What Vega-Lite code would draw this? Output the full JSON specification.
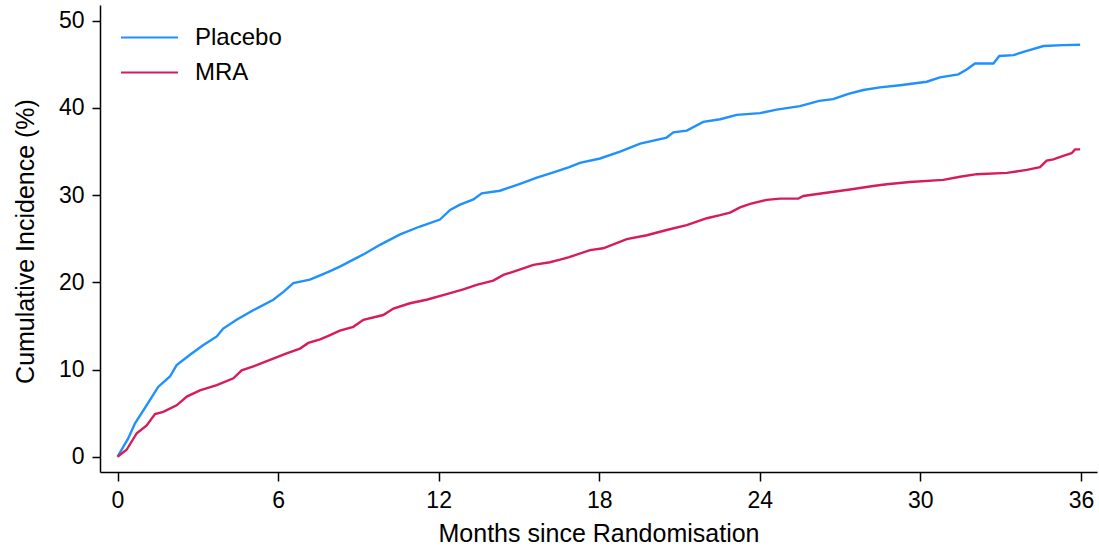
{
  "$schema": "https://vega.github.io/schema/vega-lite/v6.json",
  "width": 997,
  "height": 467,
  "autosize": "none",
  "padding": {"left": 100, "top": 5, "right": 2, "bottom": 76},
  "background": "white",
  "config": {"view": {"stroke": null}, "font": "Liberation Sans"},
  "datasets": {
    "placebo": [
      {"month": 0, "pct": 0}, {"month": 0.22, "pct": 1.15}, {"month": 0.4, "pct": 2.1}, {"month": 0.65, "pct": 3.8},
      {"month": 0.9, "pct": 5.0}, {"month": 1.21, "pct": 6.5}, {"month": 1.52, "pct": 8.0}, {"month": 1.96, "pct": 9.2},
      {"month": 2.21, "pct": 10.5}, {"month": 2.71, "pct": 11.7}, {"month": 3.21, "pct": 12.8}, {"month": 3.71, "pct": 13.8},
      {"month": 3.95, "pct": 14.7}, {"month": 4.45, "pct": 15.7}, {"month": 5.07, "pct": 16.8}, {"month": 5.82, "pct": 18.0},
      {"month": 6.2, "pct": 18.9}, {"month": 6.57, "pct": 19.9}, {"month": 7.19, "pct": 20.3}, {"month": 7.57, "pct": 20.8},
      {"month": 7.88, "pct": 21.2}, {"month": 8.31, "pct": 21.8}, {"month": 8.81, "pct": 22.6}, {"month": 9.25, "pct": 23.3},
      {"month": 9.81, "pct": 24.3}, {"month": 10.56, "pct": 25.5}, {"month": 11.3, "pct": 26.4}, {"month": 12.05, "pct": 27.2},
      {"month": 12.43, "pct": 28.3}, {"month": 12.8, "pct": 28.9}, {"month": 13.3, "pct": 29.5}, {"month": 13.61, "pct": 30.2},
      {"month": 14.29, "pct": 30.5}, {"month": 15.04, "pct": 31.3}, {"month": 15.67, "pct": 32.0}, {"month": 16.29, "pct": 32.6},
      {"month": 16.88, "pct": 33.2}, {"month": 17.28, "pct": 33.7}, {"month": 18.03, "pct": 34.2}, {"month": 18.78, "pct": 35.0},
      {"month": 19.53, "pct": 35.9}, {"month": 20.52, "pct": 36.6}, {"month": 20.77, "pct": 37.2}, {"month": 21.27, "pct": 37.4},
      {"month": 21.89, "pct": 38.4}, {"month": 22.52, "pct": 38.7}, {"month": 23.14, "pct": 39.2}, {"month": 24.01, "pct": 39.4},
      {"month": 24.63, "pct": 39.8}, {"month": 25.5, "pct": 40.2}, {"month": 26.22, "pct": 40.8}, {"month": 26.74, "pct": 41.0},
      {"month": 27.31, "pct": 41.6}, {"month": 27.87, "pct": 42.05}, {"month": 28.49, "pct": 42.35}, {"month": 29.24, "pct": 42.6},
      {"month": 30.24, "pct": 43.0}, {"month": 30.73, "pct": 43.5}, {"month": 31.42, "pct": 43.85}, {"month": 31.73, "pct": 44.4},
      {"month": 32.04, "pct": 45.1}, {"month": 32.73, "pct": 45.1}, {"month": 32.95, "pct": 45.95}, {"month": 33.48, "pct": 46.05},
      {"month": 33.98, "pct": 46.55}, {"month": 34.6, "pct": 47.1}, {"month": 35.34, "pct": 47.2}, {"month": 35.97, "pct": 47.25}
    ],
    "mra": [
      {"month": 0, "pct": 0}, {"month": 0.34, "pct": 0.8}, {"month": 0.72, "pct": 2.7}, {"month": 1.09, "pct": 3.6},
      {"month": 1.4, "pct": 4.9}, {"month": 1.71, "pct": 5.15}, {"month": 2.21, "pct": 5.9}, {"month": 2.59, "pct": 6.9},
      {"month": 3.08, "pct": 7.6}, {"month": 3.71, "pct": 8.2}, {"month": 4.33, "pct": 9.0}, {"month": 4.64, "pct": 9.9},
      {"month": 5.2, "pct": 10.5}, {"month": 5.7, "pct": 11.1}, {"month": 6.32, "pct": 11.85}, {"month": 6.82, "pct": 12.4},
      {"month": 7.13, "pct": 13.05}, {"month": 7.57, "pct": 13.45}, {"month": 7.88, "pct": 13.85}, {"month": 8.31, "pct": 14.45},
      {"month": 8.81, "pct": 14.9}, {"month": 9.19, "pct": 15.7}, {"month": 9.93, "pct": 16.25}, {"month": 10.31, "pct": 17.0},
      {"month": 10.93, "pct": 17.6}, {"month": 11.55, "pct": 18.0}, {"month": 12.3, "pct": 18.65}, {"month": 12.92, "pct": 19.2},
      {"month": 13.42, "pct": 19.7}, {"month": 14.04, "pct": 20.2}, {"month": 14.42, "pct": 20.85}, {"month": 15.16, "pct": 21.6},
      {"month": 15.54, "pct": 22.0}, {"month": 16.16, "pct": 22.3}, {"month": 16.54, "pct": 22.6}, {"month": 16.88, "pct": 22.9},
      {"month": 17.66, "pct": 23.7}, {"month": 18.15, "pct": 23.9}, {"month": 19.03, "pct": 24.95}, {"month": 19.78, "pct": 25.4},
      {"month": 20.52, "pct": 26.0}, {"month": 21.27, "pct": 26.55}, {"month": 22.02, "pct": 27.35}, {"month": 22.52, "pct": 27.7},
      {"month": 22.89, "pct": 28.0}, {"month": 23.26, "pct": 28.6}, {"month": 23.64, "pct": 29.0}, {"month": 24.26, "pct": 29.45},
      {"month": 24.76, "pct": 29.6}, {"month": 25.44, "pct": 29.6}, {"month": 25.63, "pct": 29.9}, {"month": 26.22, "pct": 30.15},
      {"month": 27.37, "pct": 30.65}, {"month": 28.24, "pct": 31.05}, {"month": 28.74, "pct": 31.25}, {"month": 29.61, "pct": 31.5},
      {"month": 30.86, "pct": 31.75}, {"month": 31.48, "pct": 32.1}, {"month": 32.11, "pct": 32.4}, {"month": 33.23, "pct": 32.55},
      {"month": 33.98, "pct": 32.9}, {"month": 34.47, "pct": 33.2}, {"month": 34.72, "pct": 33.95}, {"month": 34.97, "pct": 34.1},
      {"month": 35.34, "pct": 34.5}, {"month": 35.65, "pct": 34.8}, {"month": 35.78, "pct": 35.25}, {"month": 35.97, "pct": 35.25}
    ]
  },
  "layer": [
    {
      "data": {"name": "placebo"},
      "transform": [{"calculate": "'Placebo'", "as": "group"}],
      "mark": {"type": "line", "strokeWidth": 2.4, "interpolate": "linear"},
      "encoding": {
        "x": {"field": "month", "type": "quantitative"},
        "y": {"field": "pct", "type": "quantitative"},
        "color": {"field": "group", "type": "nominal"}
      }
    },
    {
      "data": {"name": "mra"},
      "transform": [{"calculate": "'MRA'", "as": "group"}],
      "mark": {"type": "line", "strokeWidth": 2.4, "interpolate": "linear"},
      "encoding": {
        "x": {"field": "month", "type": "quantitative"},
        "y": {"field": "pct", "type": "quantitative"},
        "color": {"field": "group", "type": "nominal"}
      }
    }
  ],
  "resolve": {"scale": {"color": "shared"}},
  "encoding": {
    "x": {
      "field": "month", "type": "quantitative",
      "scale": {"domain": [-0.654, 36.6], "nice": false, "zero": false},
      "axis": {
        "values": [0, 6, 12, 18, 24, 30, 36], "grid": false,
        "title": "Months since Randomisation",
        "domainColor": "black", "domainWidth": 1.5, "tickColor": "black", "tickWidth": 1.5, "tickSize": 9,
        "labelFontSize": 23, "labelColor": "black", "labelBaseline": "alphabetic", "labelPadding": 26,
        "labelFlush": false, "labelOverlap": false, "labelBound": false,
        "titleFontSize": 25, "titleFontWeight": "normal", "titleColor": "black",
        "titleX": 498.5, "titleY": 69, "titleBaseline": "alphabetic", "titleAlign": "center"
      }
    },
    "y": {
      "field": "pct", "type": "quantitative",
      "scale": {"domain": [-1.75, 51.8], "nice": false, "zero": false},
      "axis": {
        "values": [0, 10, 20, 30, 40, 50], "grid": false,
        "title": "Cumulative Incidence (%)",
        "domainColor": "black", "domainWidth": 1.5, "tickColor": "black", "tickWidth": 1.5, "tickSize": 8,
        "labelFontSize": 23, "labelColor": "black", "labelPadding": 8,
        "labelOverlap": false, "labelBound": false, "labelFlush": false,
        "titleFontSize": 25, "titleFontWeight": "normal", "titleColor": "black",
        "titleX": -67, "titleY": 236, "titleAngle": -90, "titleBaseline": "alphabetic", "titleAlign": "center"
      }
    },
    "color": {
      "field": "group", "type": "nominal",
      "scale": {"domain": ["Placebo", "MRA"], "range": ["#1E90FF", "#D81B5A"]},
      "legend": {
        "orient": "none", "legendX": 20, "legendY": 15, "title": null,
        "symbolType": "stroke", "symbolSize": 3249, "symbolStrokeWidth": 2,
        "labelFontSize": 24, "labelColor": "black", "labelOffset": 16, "rowPadding": 0, "clipHeight": 35
      }
    }
  }
}
